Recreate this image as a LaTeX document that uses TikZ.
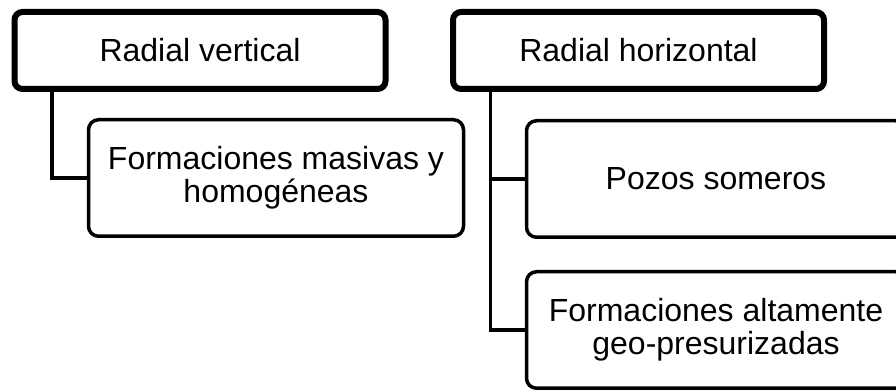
\documentclass[tikz,border=0pt]{standalone}
\usepackage{fontspec}
\setmainfont{Liberation Sans}
\usetikzlibrary{shadows}

\begin{document}
\begin{tikzpicture}[x=1pt, y=1pt,
    topbox/.style={draw, line width=6pt, rounded corners=8pt, fill=white,
      minimum width=371pt, minimum height=77pt, align=center,
      drop shadow={shadow xshift=1pt, shadow yshift=-3pt, opacity=0.2}},
    subbox/.style={draw, line width=3.5pt, rounded corners=10pt, fill=white,
      minimum width=375pt, minimum height=116.5pt, align=center},
    link/.style={line width=3.5pt}]
  \useasboundingbox (0,0) rectangle (896,390);
  \clip (0,0) rectangle (896,390);
  \fontsize{32}{33}\selectfont

  % top level boxes
  \node[topbox] (rv) at (200,339.5) {Radial vertical};
  \node[topbox] (rh) at (638.5,339.5) {Radial horizontal};

  % children, the right ones run past the page edge
  \node[subbox] (mh) at (276,212) {Formaciones masivas y\\homogéneas};
  \node[subbox, minimum width=379pt] (ps) at (716,211) {Pozos someros};
  \node[subbox, minimum width=379pt] (fa) at (716,60)
       {Formaciones altamente\\geo-presurizadas};

  % connectors from each top box
  \draw[link] ([xshift=-148pt]rv.south) |- (mh.west);
  \draw[link] ([xshift=-148pt]rh.south) |- (ps.west);
  \draw[link] ([xshift=-148pt]rh.south) |- (fa.west);
\end{tikzpicture}
\end{document}
